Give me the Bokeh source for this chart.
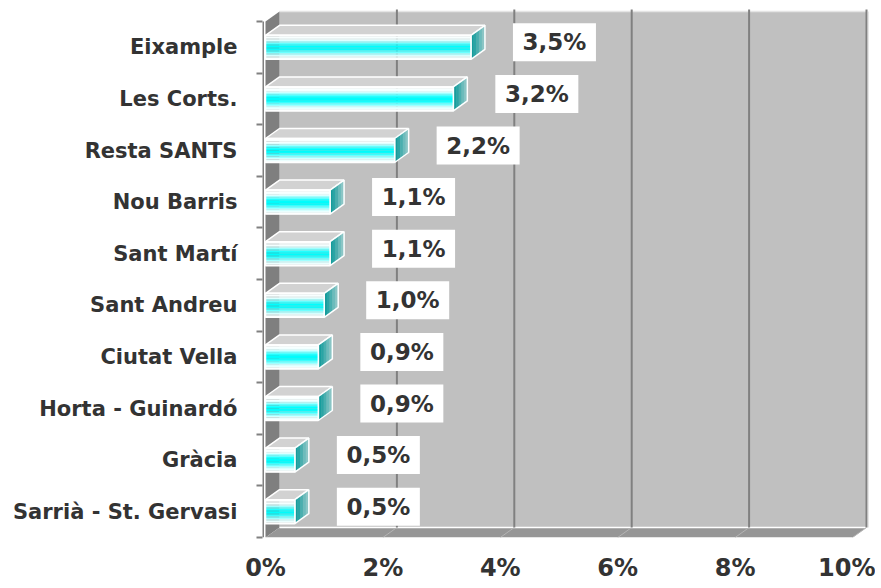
from bokeh.plotting import figure
from bokeh.models import FixedTicker, PrintfTickFormatter, Range1d
from bokeh.embed import file_html
from bokeh.resources import INLINE
from bokeh.core.properties import value

# ---------------- data ----------------
districts = ["Sarrià - St. Gervasi", "Gràcia", "Horta - Guinardó", "Ciutat Vella",
             "Sant Andreu", "Sant Martí", "Nou Barris", "Resta SANTS",
             "Les Corts.", "Eixample"]
pct = [0.5, 0.5, 0.9, 0.9, 1.0, 1.1, 1.1, 2.2, 3.2, 3.5]
labels = ["0,5%", "0,5%", "0,9%", "0,9%", "1,0%", "1,1%", "1,1%", "2,2%", "3,2%", "3,5%"]
x_ticks = [0, 2, 4, 6, 8, 10]

# ---------------- geometry (pixel-based style constants) ----------------
W, H = 875, 584
BL, BB = 262, 47            # borders
FW, FH = W - BL, H - BB      # frame size
PXX = 58.7                   # px per 1 %
PXY = 51.6                   # px per category
x0 = -3 / PXX
x1 = x0 + FW / PXX
y0 = 0.0
y1 = FH / PXY
DX = 14 / PXX                # depth offset (x)
DY = 10 / PXY                # depth offset (y)
XMAX = 10
N = len(districts)

FONT = value("DejaVu Sans")
TXT = "#333333"

p = figure(width=W, height=H, output_backend="svg", toolbar_location=None,
           x_range=Range1d(x0, x1), y_range=Range1d(y0, y1),
           min_border_left=BL, min_border_bottom=BB, min_border_top=0, min_border_right=0)
p.outline_line_color = None
p.grid.visible = False
p.background_fill_color = "white"
p.border_fill_color = "white"

# ---------------- walls ----------------
p.quad(left=DX, right=XMAX + DX, bottom=DY, top=N + DY, fill_color="#c0c0c0", line_color=None)
p.patch([0, DX, DX, 0], [0, DY, N + DY, N], fill_color="#7f7f7f", line_color=None)
p.patch([0, XMAX, XMAX + DX, DX], [0, 0, DY, DY], fill_color="#969696", line_color=None)
# wall edges
p.segment(x0=[DX], y0=[N + DY], x1=[XMAX + DX], y1=[N + DY], line_color="#e4e4e4", line_width=1.5)
p.segment(x0=[DX], y0=[DY], x1=[XMAX + DX], y1=[DY], line_color="white", line_width=1.5)
# gridlines on back wall + floor diagonals
gx = [t + DX for t in x_ticks[1:]]
p.segment(x0=gx, y0=[DY] * len(gx), x1=gx, y1=[N + DY + 2 / PXY] * len(gx),
          line_color="#808080", line_width=2)
p.segment(x0=gx, y0=[DY] * len(gx), x1=x_ticks[1:], y1=[0] * len(gx),
          line_color="#b4b4b4", line_width=1)
p.segment(x0=[XMAX + DX + 2 / PXX], y0=[DY], x1=[XMAX + DX + 2 / PXX], y1=[N + DY],
          line_color="#e6e6e6", line_width=1)
# axis line
p.segment(x0=[-2.5 / PXX], y0=[0], x1=[-2.5 / PXX], y1=[N], line_color="#808080", line_width=2)

# ---------------- 3D bars ----------------
BH = 24 / PXY
profile = [(0.00, (255, 255, 255)), (0.20, (240, 255, 255)), (0.32, (120, 255, 255)),
           (0.44, (0, 255, 255)), (0.58, (0, 250, 250)), (0.72, (110, 255, 255)),
           (0.86, (225, 255, 255)), (1.00, (255, 255, 255))]

def col_at(t):
    for (ta, ca), (tb, cb) in zip(profile[:-1], profile[1:]):
        if ta <= t <= tb:
            f = (t - ta) / (tb - ta) if tb > ta else 0
            c = [round(a + (b - a) * f) for a, b in zip(ca, cb)]
            return "#%02x%02x%02x" % tuple(c)
    return "#ffffff"

NS = 16
side_cols = ["#159c9c", "#2aa5a5", "#4aafaf", "#6cbcbc", "#8ac6c6"]
for i, v in enumerate(pct):
    c = i + 0.5
    top = c + BH / 2
    bot = c - BH / 2
    # top face
    p.patch([0, v, v + DX, DX], [top, top, top + DY, top + DY],
            fill_color="#d2d2d2", line_color="white", line_width=1.5)
    # side face (gradient slices)
    ns = len(side_cols)
    xs, ys = [], []
    for k in range(ns):
        a, b = k / ns, (k + 1) / ns
        xs.append([v + DX * a, v + DX * b, v + DX * b, v + DX * a])
        ys.append([bot + DY * a, bot + DY * b, top + DY * b, top + DY * a])
    p.patches(xs, ys, fill_color=side_cols, line_color=side_cols, line_width=0.5)
    p.patch([v, v + DX, v + DX, v], [bot, bot + DY, top + DY, top],
            fill_color=None, line_color="white", line_width=1.5)
    # front face stripes
    sh = BH / NS
    ycs = [top - sh * (k + 0.5) for k in range(NS)]
    cols = [col_at((k + 0.5) / NS) for k in range(NS)]
    p.hbar(y=ycs, left=0, right=v, height=sh * 1.05, fill_color=cols, line_color=None)
    p.patch([0, v, v, 0], [bot, bot, top, top], fill_color=None, line_color="white", line_width=1.5)

# ---------------- value labels ----------------
lx = [v + (42 + 41.5) / PXX for v in pct]
ly = [i + 0.5 + 5 / PXY for i in range(N)]
p.rect(x=lx, y=ly, width=83, height=38, width_units="screen", height_units="screen",
       fill_color="white", line_color=None)
p.text(x=lx, y=ly, text=labels, text_align="center", text_baseline="middle",
       text_font=FONT, text_font_style="bold", text_font_size="23px", text_color=TXT)

# ---------------- axes ----------------
ya = p.yaxis[0]
ya.ticker = FixedTicker(ticks=[i + 0.5 for i in range(N)], minor_ticks=list(range(N + 1)))
ya.major_label_overrides = {i + 0.5: d for i, d in enumerate(districts)}
ya.axis_line_color = None
ya.major_tick_line_color = None
ya.major_tick_out = 0
ya.major_tick_in = 0
ya.minor_tick_line_color = "#808080"
ya.minor_tick_line_width = 2
ya.minor_tick_out = 6
ya.minor_tick_in = 0
ya.major_label_standoff = 19
ya.major_label_text_font = "DejaVu Sans"
ya.major_label_text_font_style = "bold"
ya.major_label_text_font_size = "21px"
ya.major_label_text_color = TXT

xa = p.xaxis[0]
xa.ticker = FixedTicker(ticks=x_ticks)
xa.formatter = PrintfTickFormatter(format="%d%%")
xa.axis_line_color = None
xa.major_tick_line_color = None
xa.minor_tick_line_color = None
xa.major_tick_out = 0
xa.major_tick_in = 0
xa.major_label_standoff = 16
xa.major_label_text_font = "DejaVu Sans"
xa.major_label_text_font_style = "bold"
xa.major_label_text_font_size = "24px"
xa.major_label_text_color = TXT

open("out.html", "w").write(file_html(p, INLINE))
